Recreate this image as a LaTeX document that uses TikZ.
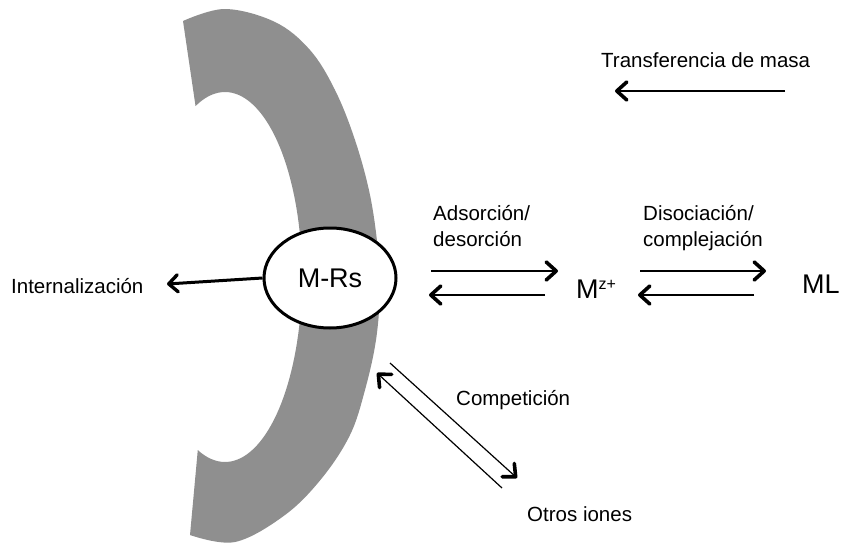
\documentclass[tikz,border=0pt]{standalone}
\usepackage{fontspec}
\setmainfont{Liberation Sans}
\usetikzlibrary{arrows.meta,shapes.geometric}
\definecolor{wallgray}{RGB}{143,143,143}
\tikzset{
  lbl/.style={inner sep=0pt, anchor=base west, font=\fontsize{20.5}{26}\selectfont},
  species/.style={inner sep=0pt, anchor=base west, font=\fontsize{27}{30}\selectfont},
  barb/.style={-{Straight Barb[length=10pt,width=18pt,line width=3.6pt,round]}, line width=1.2pt},
  thickbarb/.style={-{Straight Barb[length=9pt,width=17pt,line width=3.4pt,round]}, line width=3pt},
}
\begin{document}
\begin{tikzpicture}[x=1pt,y=-1pt]
\useasboundingbox (0,0) rectangle (841,546);

% cell wall (crescent)
\fill[wallgray] plot[smooth, tension=0.6] coordinates {(183,21) (225,9) (275,22) (310,50) (335,90) (355,140) (370,195) (378,250) (380,290) (376,340) (365,390) (350,435) (322,478) (285,515) (235,542) (190,535)}
  -- plot[domain=110.7:-112.5, samples=90] ({225+77*cos(\x)},{277+185*sin(\x)}) -- cycle;

% surface complex
\node[draw, ellipse, line width=3pt, fill=white, minimum width=132pt, minimum height=100pt, inner sep=0pt,
      font=\fontsize{27}{30}\selectfont] (mrs) at (330,278) {M-Rs};

% species in solution
\node[species] (mz) at (576,298) {M{\fontsize{16}{16}\selectfont\raisebox{9pt}{z+}}};
\node[species] (ml) at (802,293) {ML};

% labels
\node[lbl] (tm) at (601,67) {Transferencia de masa};
\node[lbl] (ads) at (433,220) {Adsorción/};
\node[lbl] (des) at (433,246) {desorción};
\node[lbl] (dis) at (643,220) {Disociación/};
\node[lbl] (com) at (643,246) {complejación};
\node[lbl] (int) at (11,293) {Internalización};
\node[lbl] (cpt) at (456,405) {Competición};
\node[lbl] (oi) at (527,521) {Otros iones};

% arrow end points
\coordinate (tmA) at (785,91);
\coordinate (tmB) at (615,91);
\coordinate (adF1) at (431,271);
\coordinate (adF2) at (558,271);
\coordinate (adB1) at (545,295);
\coordinate (adB2) at (429,295);
\coordinate (diF1) at (640,271);
\coordinate (diF2) at (766,271);
\coordinate (diB1) at (754,295);
\coordinate (diB2) at (638,295);
\coordinate (inT) at (167,284);
\coordinate (cpF1) at (390,363);
\coordinate (cpF2) at (517,478);
\coordinate (cpB1) at (502,488);
\coordinate (cpB2) at (377,373);

% arrows
\draw[barb] (tmA) -- (tmB);
\draw[barb] (adF1) -- (adF2);
\draw[barb] (adB1) -- (adB2);
\draw[barb] (diF1) -- (diF2);
\draw[barb] (diB1) -- (diB2);
\draw[thickbarb] (mrs.west) -- (inT);
\draw[barb] (cpF1) -- (cpF2);
\draw[barb] (cpB1) -- (cpB2);
\end{tikzpicture}
\end{document}
